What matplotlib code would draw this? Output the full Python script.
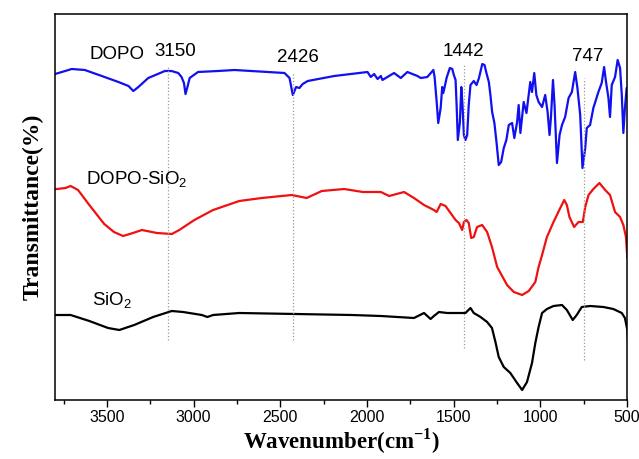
import matplotlib
matplotlib.use('Agg')
import matplotlib.pyplot as plt

plt.rcParams['font.family'] = ['Liberation Sans', 'DejaVu Sans']
plt.rcParams['mathtext.fontset'] = 'custom'
plt.rcParams['mathtext.rm'] = 'Liberation Serif'
plt.rcParams['mathtext.bf'] = 'Liberation Serif:bold'
plt.rcParams['mathtext.sf'] = 'Liberation Sans'

serif = {'family': 'Liberation Serif', 'weight': 'bold'}

## FTIR spectra, transmittance in arbitrary units (offset per curve)
dopo_wn = [3800, 3780, 3703, 3628, 3530, 3434, 3376, 3348, 3319, 3262, 3166, 3128, 3089,
           3070, 3056, 3047, 3036, 3023, 2975, 2860, 2764, 2572, 2476, 2447, 2428, 2409,
           2390, 2371, 2342, 2189, 1997, 1978, 1959, 1939, 1920, 1911, 1882, 1844, 1805,
           1767, 1709, 1690, 1652, 1617, 1610, 1598, 1589, 1575, 1566, 1560, 1552, 1541,
           1522, 1508, 1499, 1489, 1483, 1476, 1464, 1456, 1449, 1441, 1432, 1422, 1413,
           1403, 1384, 1368, 1354, 1335, 1322, 1311, 1297, 1288, 1278, 1265, 1253, 1240,
           1226, 1211, 1196, 1182, 1163, 1150, 1134, 1125, 1115, 1096, 1080, 1067, 1058,
           1048, 1035, 1023, 1010, 990, 972, 958, 947, 939, 927, 918, 904, 889, 875, 857,
           837, 818, 799, 786, 770, 757, 741, 732, 713, 694, 665, 646, 632, 621, 607, 598,
           588, 569, 554, 540, 530, 521, 512, 502, 495]
dopo_t = [326, 327, 331, 330, 324, 318, 314, 309, 313, 322, 329, 329, 327,
          323, 317, 306, 313, 322, 328, 329, 330, 328, 327, 322, 305, 313,
          312, 316, 319, 324, 328, 323, 326, 321, 324, 320, 323, 327, 322,
          328, 324, 322, 323, 330, 323, 298, 277, 292, 313, 307, 313, 322,
          332, 331, 325, 320, 295, 260, 278, 313, 295, 265, 260, 265, 295,
          315, 319, 315, 322, 336, 335, 327, 318, 305, 288, 277, 258, 235,
          238, 252, 260, 275, 277, 262, 278, 295, 267, 298, 287, 305, 318,
          308, 327, 305, 298, 293, 305, 288, 265, 282, 320, 295, 237, 265, 275, 283,
          302, 308, 328, 312, 285, 232, 252, 272, 275, 292, 308, 317, 333, 318, 302, 283,
          315, 323, 340, 332, 305, 267, 292, 312, 312]

dopo_sio2_wn = [3800, 3787, 3740, 3710, 3667, 3602, 3516, 3460, 3407, 3350, 3299, 3212,
                3126, 3083, 2996, 2888, 2737, 2607, 2434, 2348, 2261, 2132, 2024, 1920,
                1872, 1786, 1729, 1671, 1614, 1598, 1575, 1547, 1518, 1489, 1470, 1451,
                1441, 1426, 1413, 1399, 1384, 1365, 1336, 1307, 1279, 1249, 1230, 1192,
                1153, 1105, 1067, 1029, 1010, 990, 962, 924, 885, 862, 847, 832, 805, 780,
                755, 741, 722, 694, 659, 626, 598, 569, 540, 521, 506, 498]
dopo_sio2_t = [211, 211, 212, 214, 210, 195, 176, 168, 164, 167, 170, 167,
               166, 170, 180, 190, 199, 202, 205, 202, 209, 211, 208, 208,
               204, 208, 202, 195, 190, 188, 196, 194, 187, 180, 177, 170,
               178, 180, 177, 162, 163, 173, 175, 168, 153, 133, 127, 115,
               108, 105, 109, 118, 133, 145, 163, 178, 192, 200, 195, 183, 173, 178,
               178, 193, 205, 211, 217, 210, 205, 188, 183, 175, 163, 142]

sio2_wn = [3800, 3787, 3710, 3602, 3494, 3429, 3343, 3234, 3126, 3061, 2953, 2921, 2888,
           2737, 2412, 2088, 1920, 1729, 1671, 1652, 1633, 1614, 1585, 1537, 1480, 1432,
           1403, 1384, 1345, 1307, 1279, 1259, 1240, 1211, 1173, 1134, 1105, 1077, 1048,
           1029, 1010, 990, 962, 924, 875, 847, 813, 790, 761, 713, 636, 579, 530, 512,
           498, 493]
sio2_t = [85, 85, 85, 79, 72, 70, 75, 83, 89, 88, 85, 83, 85,
          87, 86, 85, 84, 82, 87, 84, 81, 84, 88, 87, 87, 87,
          92, 87, 83, 78, 72, 58, 43, 33, 27, 17, 10, 18, 37,
          57, 73, 87, 91, 94, 95, 90, 80, 85, 93, 94, 93, 91, 87, 82,
          70, 57]

marks = [3150, 2426, 1442, 747]
mark_labels = ['3150', '2426', '1442', '747']
mark_top = [334, 328, 335, 322]
mark_bottom = [60, 60, 52, 40]


def plt_data():
    fig = plt.figure(figsize=(6.39, 4.59), dpi=100)
    ax = fig.add_axes([55 / 639, 59 / 459, 572 / 639, 386 / 459])

    ax.plot(dopo_wn, dopo_t, color='#1010f0', lw=1.6)
    ax.plot(dopo_sio2_wn, dopo_sio2_t, color='#f01010', lw=1.6)
    ax.plot(sio2_wn, sio2_t, color='black', lw=1.6)

    for wn, top, bot in zip(marks, mark_top, mark_bottom):
        ax.vlines(wn, bot, top, colors='#999999', linestyles=':', lw=0.9)

    ax.text(3600, 341, 'DOPO', fontsize=13.5)
    ax.text(3226, 344, mark_labels[0], fontsize=13.5)
    ax.text(2397, 338, mark_labels[1], fontsize=13.5, ha='center')
    ax.text(1443, 344, mark_labels[2], fontsize=13.5, ha='center')
    ax.text(724, 339, mark_labels[3], fontsize=13.5, ha='center')
    ax.text(3622, 215, 'DOPO-SiO$_\\mathsf{2}$', fontsize=13.5)
    ax.text(3588, 94, 'SiO$_\\mathsf{2}$', fontsize=13.5)

    ax.set_xlim(3800, 500)
    ax.set_ylim(0, 386)
    ax.set_xticks([3500, 3000, 2500, 2000, 1500, 1000, 500])
    ax.set_xticks([3750, 3250, 2750, 2250, 1750, 1250, 750], minor=True)
    ax.set_yticks([])
    ax.tick_params(axis='x', which='major', direction='out', length=5, width=1,
                   labelsize=11.5, pad=2)
    ax.tick_params(axis='x', which='minor', direction='out', length=3, width=1)
    for s in ax.spines.values():
        s.set_linewidth(1.1)

    ax.set_xlabel('Wavenumber(cm$^{\\mathbf{-1}}$)', fontsize=16.5, labelpad=1, **serif)
    ax.set_ylabel('Transmittance(%)', fontsize=17, labelpad=8, **serif)

    fig.savefig('out.png', dpi=100)


def main():
    plt_data()


if __name__ == '__main__':
    main()
